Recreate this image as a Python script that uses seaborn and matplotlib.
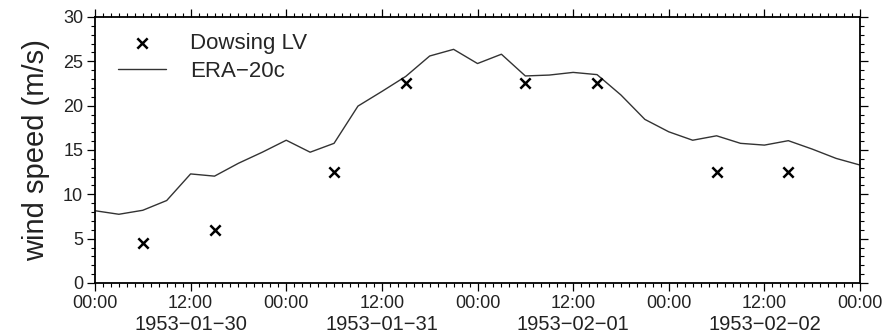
import matplotlib
matplotlib.use('Agg')
import matplotlib.pyplot as plt
import matplotlib.dates as mdates
from matplotlib.ticker import MultipleLocator
import pandas as pd
import seaborn as sns

# ERA-20c, 3-hourly
era_times = pd.date_range('1953-01-30 00:00', '1953-02-03 00:00', freq='3h')
era_speed = [8.15, 7.75, 8.2, 9.3, 12.3, 12.05, 13.5, 14.75, 16.1,
             14.75, 15.75, 19.95, 21.6, 23.3, 25.6, 26.35, 24.75, 25.8,
             23.35, 23.45, 23.75, 23.5, 21.2, 18.45, 17.05, 16.1, 16.6,
             15.75, 15.55, 16.05, 15.1, 14.05, 13.3]

# Dowsing LV observations
obs_times = pd.to_datetime(['1953-01-30 06:00', '1953-01-30 15:00',
                            '1953-01-31 06:00', '1953-01-31 15:00',
                            '1953-02-01 06:00', '1953-02-01 15:00',
                            '1953-02-02 06:00', '1953-02-02 15:00'])
obs_speed = [4.5, 6.0, 12.5, 22.5, 22.5, 22.5, 12.5, 12.5]

date_labels = ['1953-01-30', '1953-01-31', '1953-02-01', '1953-02-02']

sns.set_theme(style='ticks')
plt.rcParams['font.family'] = ['Liberation Sans', 'DejaVu Sans']

fig, ax = plt.subplots(figsize=(8.85, 3.33), dpi=100)
fig.subplots_adjust(left=0.1073, right=0.9718, bottom=0.1502, top=0.949)

sns.lineplot(x=era_times, y=era_speed, color='#333333', lw=1.0, ax=ax, label='ERA\u221220c')
sns.scatterplot(x=obs_times, y=obs_speed, marker='x', color='black', s=55,
                linewidth=1.8, ax=ax, label='Dowsing LV', zorder=3)

ax.set_xlim(era_times[0], era_times[-1])
ax.set_ylim(0, 30)
ax.xaxis.set_major_locator(mdates.HourLocator(byhour=[0, 12]))
ax.xaxis.set_minor_locator(mdates.HourLocator())
ax.xaxis.set_major_formatter(mdates.DateFormatter('%H:%M'))
ax.yaxis.set_major_locator(MultipleLocator(5))
ax.yaxis.set_minor_locator(MultipleLocator(1))
ax.tick_params(which='both', direction='out', top=True, right=True,
               labeltop=False, labelright=False, color='black')
ax.tick_params(which='major', length=5.5, width=0.9, labelsize=13, pad=3, labelcolor='#222222')
ax.tick_params(which='minor', length=3, width=0.8)
for sp in ax.spines.values():
    sp.set_linewidth(1.3)
    sp.set_color('black')

# date row under the 12:00 ticks
for d in date_labels:
    ax.annotate(d.replace('-', '\u2212'), xy=(pd.Timestamp(d + ' 12:00'), 0),
                xycoords=('data', 'axes fraction'), xytext=(0, -23),
                textcoords='offset points', ha='center', va='top',
                fontsize=14.5, color='#222222')

ax.set_xlabel('')
ax.set_ylabel('wind speed (m/s)', fontsize=21, labelpad=9, color='#222222')

handles, labels = ax.get_legend_handles_labels()
ax.legend([handles[1], handles[0]], [labels[1], labels[0]],
          loc='upper left', bbox_to_anchor=(0.03, 0.94), frameon=False,
          fontsize=16, handlelength=2.15, handletextpad=1.1, borderpad=0,
          borderaxespad=0, labelspacing=0.32)

fig.savefig('out.png', dpi=100)
plt.close()
